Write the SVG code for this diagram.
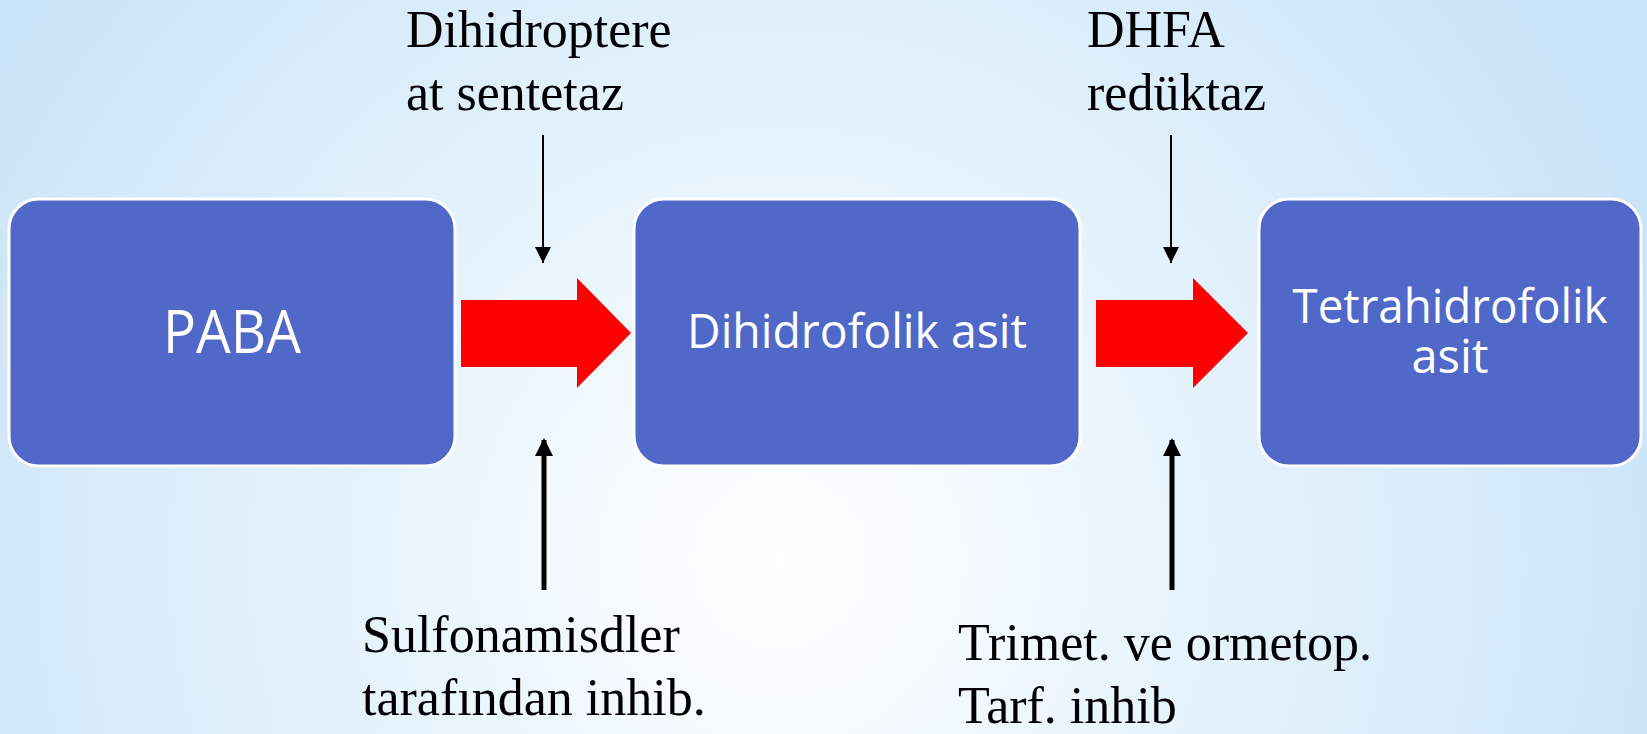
<svg xmlns="http://www.w3.org/2000/svg" width="1647" height="734" viewBox="0 0 1647 734">
<defs>
<radialGradient id="bg" cx="780" cy="560" r="950" gradientUnits="userSpaceOnUse">
<stop offset="0" stop-color="#FFFFFF"/>
<stop offset="0.45" stop-color="#E6F3FD"/>
<stop offset="1" stop-color="#C9E3F8"/>
</radialGradient>
<marker id="hs" viewBox="0 0 16 16" markerWidth="16" markerHeight="16" refX="16" refY="8" markerUnits="userSpaceOnUse" orient="auto">
<path d="M0,0 L16,8 L0,16 Z" fill="#000"/>
</marker>
<marker id="hb" viewBox="0 0 18 18" markerWidth="18" markerHeight="18" refX="16" refY="9" markerUnits="userSpaceOnUse" orient="auto">
<path d="M0,0 L18,9 L0,18 Z" fill="#000"/>
</marker>
</defs>
<style>
.box{fill:#5068C8;stroke:#FFFFFF;stroke-width:3}
.bt{fill:#FFFFFF;font-family:"Open Sans","Noto Sans",sans-serif;text-anchor:middle}
.lbl{fill:#000;font-family:"Liberation Serif","Times New Roman",serif;font-size:52px}
.red{fill:#FF0000}
.thin{stroke:#000;stroke-width:2;fill:none}
.thick{stroke:#000;stroke-width:5;fill:none}
</style>
<rect x="0" y="0" width="1647" height="734" fill="url(#bg)"/>

<g id="node-paba">
<rect class="box" x="9" y="199" width="446" height="267" rx="30" ry="30"/>
<text class="bt" x="232" y="353" font-size="60" textLength="138" lengthAdjust="spacingAndGlyphs">PABA</text>
</g>
<g id="node-dhfa">
<rect class="box" x="634" y="199" width="446" height="267" rx="30" ry="30"/>
<text class="bt" x="857" y="348" font-size="47" textLength="340" lengthAdjust="spacingAndGlyphs">Dihidrofolik asit</text>
</g>
<g id="node-thfa">
<rect class="box" x="1259" y="199" width="382" height="267" rx="30" ry="30"/>
<text class="bt" x="1450" y="323" font-size="47" textLength="315" lengthAdjust="spacingAndGlyphs">Tetrahidrofolik</text>
<text class="bt" x="1450" y="373" font-size="47">asit</text>
</g>

<g id="labels">
<text class="lbl" x="406" y="47">Dihidroptere</text>
<text class="lbl" x="406" y="110">at sentetaz</text>
<text class="lbl" x="1087" y="47">DHFA</text>
<text class="lbl" x="1087" y="110">redüktaz</text>
<text class="lbl" x="362" y="652">Sulfonamisdler</text>
<text class="lbl" x="362" y="715">tarafından inhib.</text>
<text class="lbl" x="958" y="660">Trimet. ve ormetop.</text>
<text class="lbl" x="958" y="723">Tarf. inhib</text>
</g>

<g id="connectors">
<path class="red" d="M461,300 L577,300 L577,278 L631,333 L577,388 L577,367 L461,367 Z"/>
<path class="red" d="M1096,300 L1193,300 L1193,278 L1248,333 L1193,388 L1193,367 L1096,367 Z"/>
<line class="thin" x1="543" y1="135" x2="543" y2="263" marker-end="url(#hs)"/>
<line class="thin" x1="1171" y1="135" x2="1171" y2="263" marker-end="url(#hs)"/>
<line class="thick" x1="544" y1="590" x2="544" y2="440" marker-end="url(#hb)"/>
<line class="thick" x1="1172" y1="590" x2="1172" y2="440" marker-end="url(#hb)"/>
</g>
</svg>
